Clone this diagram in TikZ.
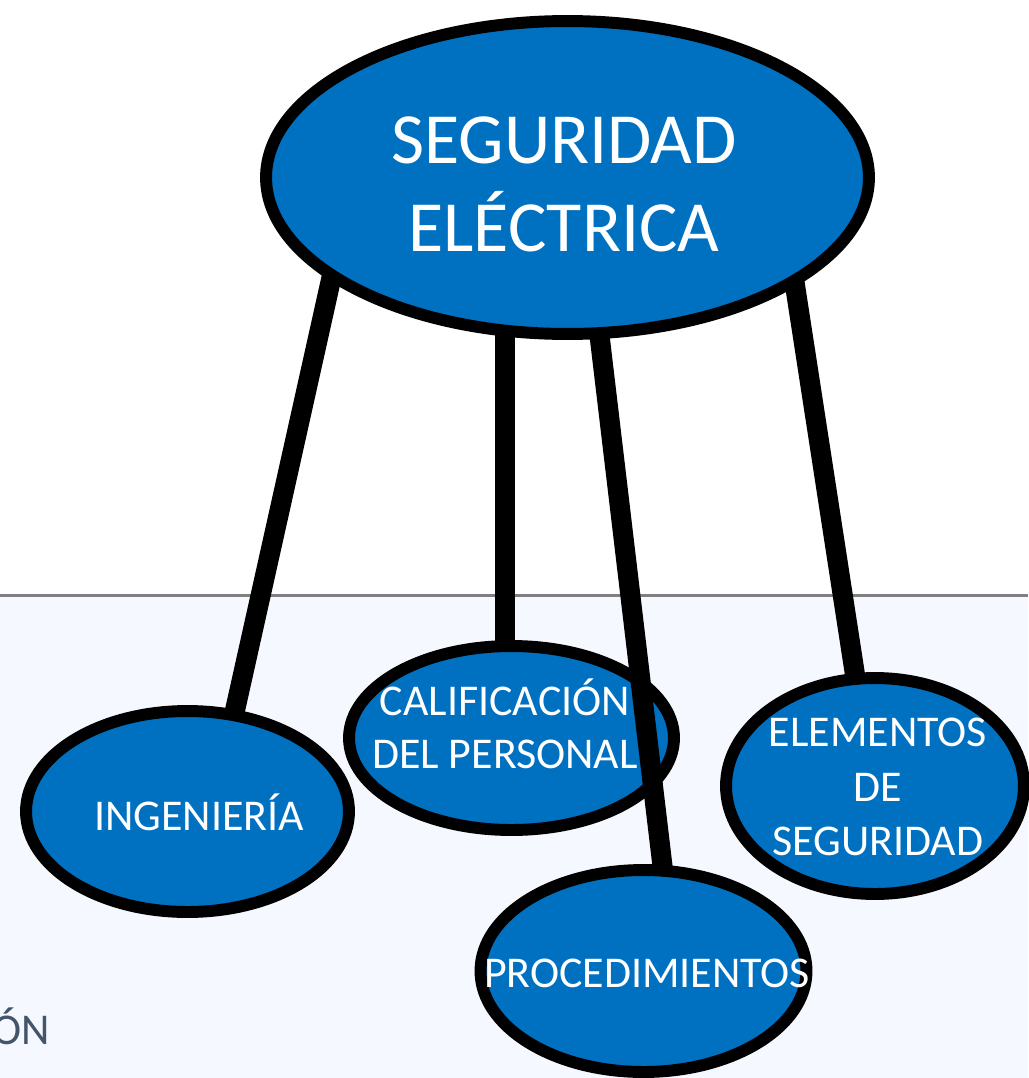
\documentclass[tikz,border=0pt]{standalone}
\usepackage{fontspec}
\setmainfont{Carlito}
\usetikzlibrary{shapes.geometric,calc}
\definecolor{nodeblue}{RGB}{0,112,192}
\definecolor{lowbg}{RGB}{245,248,254}
\definecolor{sepgray}{RGB}{128,128,128}
\definecolor{capgray}{RGB}{68,84,106}
\pgfdeclarelayer{back}
\pgfdeclarelayer{mid}
\pgfsetlayers{back,mid,main}
\tikzset{
  bubble/.style={ellipse, draw=black, fill=nodeblue, line width=6.8pt, inner sep=0pt},
  link/.style={line width=11.4pt, black},
  bigtxt/.style={text=white, align=center, font=\fontsize{41}{50}\selectfont, inner sep=0pt},
  smalltxt/.style={text=white, align=center, font=\fontsize{25}{30}\selectfont, inner sep=0pt},
}
\begin{document}
\begin{tikzpicture}[x=0.02cm, y=-0.02cm]
\useasboundingbox (0,0) rectangle (1028,1078);
\begin{pgfonlayer}{back}
  \fill[white] (0,0) rectangle (1028,595);
  \fill[lowbg] (0,595) rectangle (1028,1078);
  \draw[sepgray, line width=1.7pt] (0,595) -- (1028,595);
  \node[bubble, minimum width=6.5cm, minimum height=3.68cm] (cal) at (511.5,738) {};
\end{pgfonlayer}
\node[bubble, minimum width=12.06cm, minimum height=6.26cm] (top) at (567.5,177.5) {};
\node[bubble, minimum width=6.46cm, minimum height=4.02cm] (ing) at (187.5,811.5) {};
\node[bubble, minimum width=5.96cm, minimum height=4.32cm] (ele) at (875,786) {};
\node[bubble, minimum width=6.52cm, minimum height=4.04cm] (pro) at (643.5,971) {};
\node[bigtxt] (ttop) at (564,184) {SEGURIDAD\\ELÉCTRICA};
\node[smalltxt] (ting) at (199,812) {INGENIERÍA};
\node[smalltxt] (tcal) at (505,724) {CALIFICACIÓN\\DEL PERSONAL};
\node[smalltxt, font=\fontsize{25}{31}\selectfont] (tele) at (878,787) {ELEMENTOS\\DE\\SEGURIDAD};
\node[smalltxt] (tpro) at (647,973) {PROCEDIMIENTOS};
\node[text=capgray, font=\fontsize{25}{30}\selectfont, anchor=base east, inner sep=0pt] (tcut) at (50,1044) {ÓN};
\begin{pgfonlayer}{mid}
  \draw[link] ($(top)+(-231,77.5)$) -- ($(ing)+(41,-72)$);
  \draw[link] ($(top)+(-62.5,132.5)$) -- ($(cal)+(-6.5,-92)$);
  \draw[link] ($(top)+(29,132.7)$) -- ($(pro)+(23,-71.2)$);
  \draw[link] ($(top)+(222.9,77.9)$) -- ($(ele)+(-15.4,-81.4)$);
\end{pgfonlayer}
\end{tikzpicture}
\end{document}
